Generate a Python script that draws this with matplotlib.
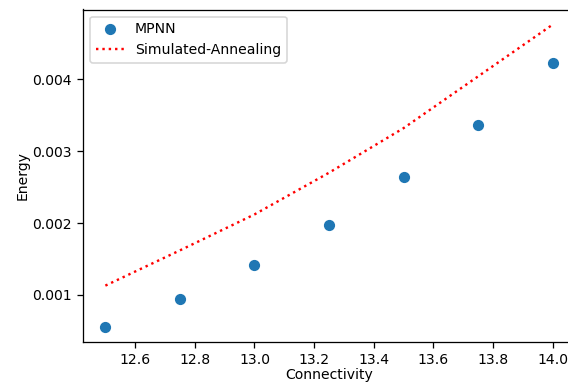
import numpy as np
import matplotlib.pyplot as plt

# 数据
connectivity = [12.5, 12.75, 13.0, 13.25, 13.5, 13.75, 14.0]
mpnn_energy = [0.000556, 0.00094, 0.00142, 0.00197, 0.00264, 0.00336, 0.00422]
sa_energy = [0.00113, 0.00162, 0.00212, 0.00270, 0.00332, 0.00404, 0.00476]

plt.rcParams['font.size'] = 8.8

dpi = 115
fig = plt.figure(figsize=(568 / dpi, 382 / dpi), dpi=dpi)
# 原图右侧被裁掉一部分，坐标轴延伸到画布之外
ax = fig.add_axes([83 / 568, 40 / 382, (575 - 83) / 568, (342 - 9.5) / 382])

ax.scatter(connectivity, mpnn_energy, label='MPNN')
ax.plot(connectivity, sa_energy, 'r:', label='Simulated-Annealing')
ax.set_xlabel('Connectivity', labelpad=0.5)
ax.set_ylabel('Energy', labelpad=1.5)
ax.legend(loc='upper left')

fig.savefig('out.png', dpi=dpi)
